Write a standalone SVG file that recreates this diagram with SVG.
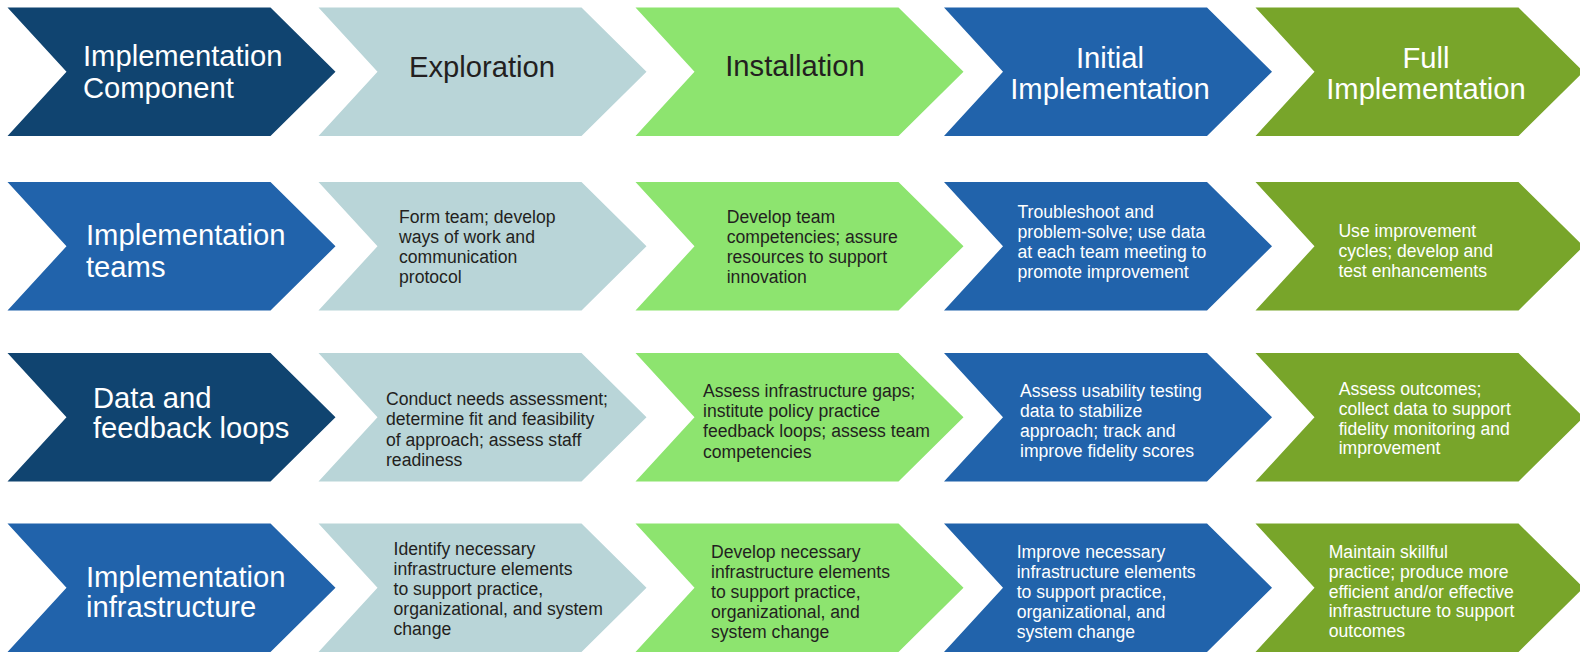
<svg xmlns="http://www.w3.org/2000/svg" xmlns:xlink="http://www.w3.org/1999/xlink" width="1580" height="652" viewBox="0 0 1580 652">
<style>
.navy{fill:#104470}
.blue{fill:#2163ab}
.grey{fill:#b9d5d8}
.lgreen{fill:#8de46f}
.olive{fill:#78a52a}
text{font-family:"Liberation Sans",Arial,sans-serif}
.h{font-size:29.2px}
.b{font-size:17.6px}
.w{fill:#ffffff}
.d{fill:#231f20}
.c{text-anchor:middle}
</style>
<defs>
<path id="chev" d="M0,0 H263 L328,64.25 L263,128.5 H0 L59,64.25 Z"/>
</defs>
<rect width="1580" height="652" fill="#ffffff"/>

<!-- Row 1 -->
<g id="r1c0"><use href="#chev" x="7.5" y="7.5" class="navy"/>
<text class="h w" x="83" y="65.7">Implementation</text><text class="h w" x="83" y="98.3">Component</text></g>
<g id="r1c1"><use href="#chev" x="318.5" y="7.5" class="grey"/>
<text class="h d c" x="482" y="76.7">Exploration</text></g>
<g id="r1c2"><use href="#chev" x="635.5" y="7.5" class="lgreen"/>
<text class="h d c" x="795" y="76">Installation</text></g>
<g id="r1c3"><use href="#chev" x="944" y="7.5" class="blue"/>
<text class="h w c" x="1110" y="67.7">Initial</text><text class="h w c" x="1110" y="99.3">Implementation</text></g>
<g id="r1c4"><use href="#chev" x="1255.5" y="7.5" class="olive"/>
<text class="h w c" x="1426" y="67.7">Full</text><text class="h w c" x="1426" y="99.3">Implementation</text></g>

<!-- Row 2 -->
<g id="r2c0"><use href="#chev" x="7.5" y="182" class="blue"/>
<text class="h w" x="86" y="245">Implementation</text><text class="h w" x="86" y="276.7">teams</text></g>
<g id="r2c1"><use href="#chev" x="318.5" y="182" class="grey"/>
<text class="b d" x="399" y="222.7">Form team; develop</text>
<text class="b d" x="399" y="242.9">ways of work and</text>
<text class="b d" x="399" y="263.1">communication</text>
<text class="b d" x="399" y="283.3">protocol</text></g>
<g id="r2c2"><use href="#chev" x="635.5" y="182" class="lgreen"/>
<text class="b d" x="726.7" y="222.7">Develop team</text>
<text class="b d" x="726.7" y="242.9">competencies; assure</text>
<text class="b d" x="726.7" y="263.1">resources to support</text>
<text class="b d" x="726.7" y="283.3">innovation</text></g>
<g id="r2c3"><use href="#chev" x="944" y="182" class="blue"/>
<text class="b w" x="1017.5" y="218">Troubleshoot and</text>
<text class="b w" x="1017.5" y="237.9">problem-solve; use data</text>
<text class="b w" x="1017.5" y="257.8">at each team meeting to</text>
<text class="b w" x="1017.5" y="277.7">promote improvement</text></g>
<g id="r2c4"><use href="#chev" x="1255.5" y="182" class="olive"/>
<text class="b w" x="1338.4" y="236.7">Use improvement</text>
<text class="b w" x="1338.4" y="256.7">cycles; develop and</text>
<text class="b w" x="1338.4" y="276.7">test enhancements</text></g>

<!-- Row 3 -->
<g id="r3c0"><use href="#chev" x="7.5" y="353" class="navy"/>
<text class="h w" x="93" y="407.7">Data and</text><text class="h w" x="93" y="438.3">feedback loops</text></g>
<g id="r3c1"><use href="#chev" x="318.5" y="353" class="grey"/>
<text class="b d" x="386" y="405">Conduct needs assessment;</text>
<text class="b d" x="386" y="425.3">determine fit and feasibility</text>
<text class="b d" x="386" y="445.5">of approach; assess staff</text>
<text class="b d" x="386" y="465.7">readiness</text></g>
<g id="r3c2"><use href="#chev" x="635.5" y="353" class="lgreen"/>
<text class="b d" x="703" y="396.7">Assess infrastructure gaps;</text>
<text class="b d" x="703" y="417">institute policy practice</text>
<text class="b d" x="703" y="437.3">feedback loops; assess team</text>
<text class="b d" x="703" y="457.6">competencies</text></g>
<g id="r3c3"><use href="#chev" x="944" y="353" class="blue"/>
<text class="b w" x="1020" y="396.7">Assess usability testing</text>
<text class="b w" x="1020" y="416.7">data to stabilize</text>
<text class="b w" x="1020" y="436.7">approach; track and</text>
<text class="b w" x="1020" y="456.7">improve fidelity scores</text></g>
<g id="r3c4"><use href="#chev" x="1255.5" y="353" class="olive"/>
<text class="b w" x="1338.7" y="395">Assess outcomes;</text>
<text class="b w" x="1338.7" y="414.8">collect data to support</text>
<text class="b w" x="1338.7" y="434.6">fidelity monitoring and</text>
<text class="b w" x="1338.7" y="454.4">improvement</text></g>

<!-- Row 4 -->
<g id="r4c0"><use href="#chev" x="7.5" y="523.5" class="blue"/>
<text class="h w" x="86" y="586.7">Implementation</text><text class="h w" x="86" y="617.3">infrastructure</text></g>
<g id="r4c1"><use href="#chev" x="318.5" y="523.5" class="grey"/>
<text class="b d" x="393.5" y="555">Identify necessary</text>
<text class="b d" x="393.5" y="575">infrastructure elements</text>
<text class="b d" x="393.5" y="595">to support practice,</text>
<text class="b d" x="393.5" y="615">organizational, and system</text>
<text class="b d" x="393.5" y="635">change</text></g>
<g id="r4c2"><use href="#chev" x="635.5" y="523.5" class="lgreen"/>
<text class="b d" x="711" y="558.3">Develop necessary</text>
<text class="b d" x="711" y="578.3">infrastructure elements</text>
<text class="b d" x="711" y="598.3">to support practice,</text>
<text class="b d" x="711" y="618.3">organizational, and</text>
<text class="b d" x="711" y="638.3">system change</text></g>
<g id="r4c3"><use href="#chev" x="944" y="523.5" class="blue"/>
<text class="b w" x="1016.7" y="557.7">Improve necessary</text>
<text class="b w" x="1016.7" y="577.7">infrastructure elements</text>
<text class="b w" x="1016.7" y="597.7">to support practice,</text>
<text class="b w" x="1016.7" y="617.7">organizational, and</text>
<text class="b w" x="1016.7" y="637.7">system change</text></g>
<g id="r4c4"><use href="#chev" x="1255.5" y="523.5" class="olive"/>
<text class="b w" x="1328.7" y="557.7">Maintain skillful</text>
<text class="b w" x="1328.7" y="577.6">practice; produce more</text>
<text class="b w" x="1328.7" y="597.5">efficient and/or effective</text>
<text class="b w" x="1328.7" y="617.4">infrastructure to support</text>
<text class="b w" x="1328.7" y="637.3">outcomes</text></g>

<g id="connectors"></g>
</svg>
